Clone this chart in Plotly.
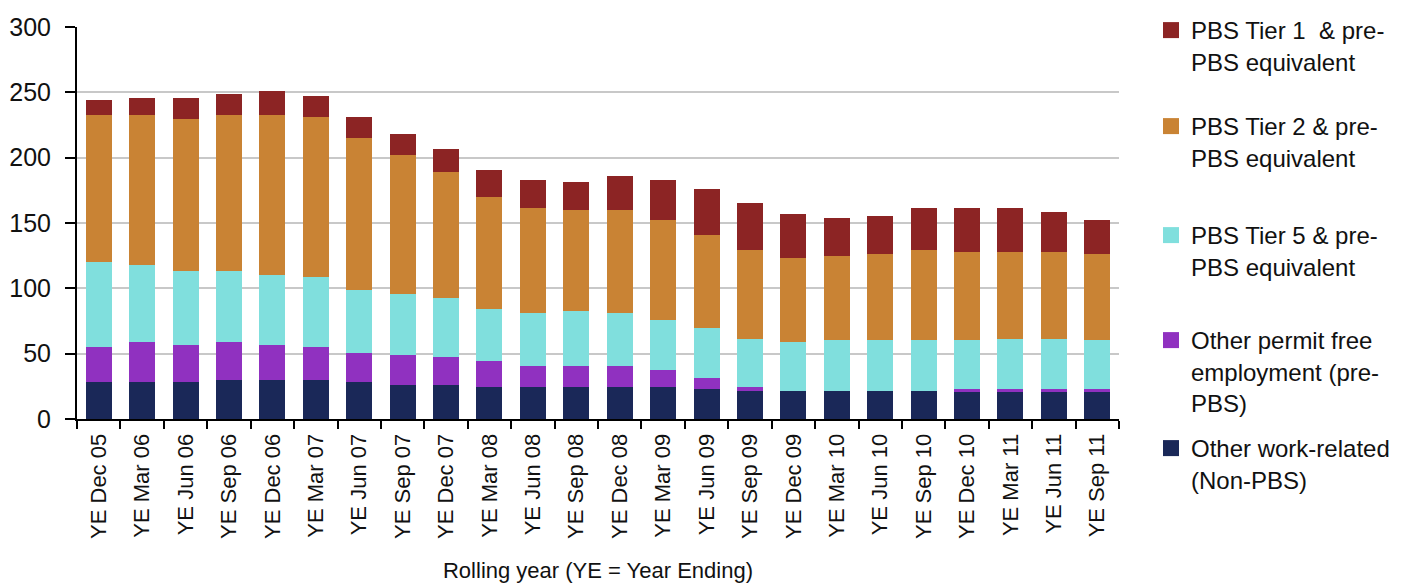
import plotly.graph_objects as go

categories = ["YE Dec 05", "YE Mar 06", "YE Jun 06", "YE Sep 06", "YE Dec 06", "YE Mar 07",
              "YE Jun 07", "YE Sep 07", "YE Dec 07", "YE Mar 08", "YE Jun 08", "YE Sep 08",
              "YE Dec 08", "YE Mar 09", "YE Jun 09", "YE Sep 09", "YE Dec 09", "YE Mar 10",
              "YE Jun 10", "YE Sep 10", "YE Dec 10", "YE Mar 11", "YE Jun 11", "YE Sep 11"]

other_work_related = [28, 28, 28, 29.6, 29.6, 29.6, 28, 26.3, 26.3, 24.5, 24.5, 24.5,
                      24.5, 24.5, 23, 21.4, 21.4, 21.4, 21.4, 21.4, 21.4, 21.4, 21.4, 21.4]
other_permit_free = [27.4, 30.7, 29, 29.1, 27.4, 25.8, 22.5, 22.7, 20.9, 19.6, 16.3, 16.3,
                     16.3, 13.3, 8.1, 3.1, 0, 0, 0, 0, 1.2, 1.2, 1.2, 1.2]
tier5 = [64.6, 59.3, 56.5, 54.8, 53, 53.3, 48.5, 46.7, 45.4, 40.1, 40.2, 41.6,
         40.2, 38.2, 38.5, 37, 37.3, 38.8, 38.8, 38.8, 37.6, 38.9, 38.9, 37.6]
tier2 = [113, 115, 116.1, 119.5, 123, 122.7, 116, 106.6, 96.7, 85.8, 80.7, 77.8,
         79.2, 76, 71.2, 68.1, 64.5, 64.5, 66.1, 69.4, 67.6, 66.3, 66.3, 66.1]
tier1 = [11, 12.7, 16.1, 16, 17.8, 16, 16.4, 16.1, 17.7, 20.8, 21, 20.8,
         25.8, 30.7, 35.5, 35.4, 33.8, 28.9, 28.8, 32.1, 33.9, 33.9, 30.6, 25.7]

series = [
    ("Other work-related<br>(Non-PBS)", other_work_related, "#1A2858"),
    ("Other permit free<br>employment (pre-<br>PBS)", other_permit_free, "#9031C0"),
    ("PBS Tier 5 & pre-<br>PBS equivalent", tier5, "#80DFDD"),
    ("PBS Tier 2 & pre-<br>PBS equivalent", tier2, "#C98334"),
    ("PBS Tier 1  & pre-<br>PBS equivalent", tier1, "#8C2424"),
]

# first-line centre of each legend entry (page pixels from top)
legend_centres = [449, 341, 236, 127, 18]

W, H = 1409, 575  # page has an 8px body margin
L, R, T, B = 69, 298, 19, 164

fig = go.Figure()
for name, vals, col in series:
    fig.add_trace(go.Bar(x=categories, y=vals, name=name, marker=dict(color=col, line=dict(width=0)),
                         showlegend=False))

legend_names = ["legend5", "legend4", "legend3", "legend2", "legend"]
for (name, vals, col), lg in zip(series, legend_names):
    fig.add_trace(go.Scatter(x=[None], y=[None], mode="markers", name=name, legend=lg,
                             marker=dict(symbol="square", size=16, color=col)))

font_family = "Liberation Sans, Arial, sans-serif"
plot_h = H - T - B
layout_legends = {}
for lg, c in zip(legend_names, legend_centres):
    top_fig = c - 31  # legend box top in figure pixels
    layout_legends[lg] = dict(xref="container", yref="paper", x=1143 / W,
                              y=(H - B - top_fig) / plot_h, xanchor="left", yanchor="top",
                              valign="top", font=dict(size=24, color="#111", family=font_family),
                              bgcolor="rgba(0,0,0,0)", borderwidth=0)

fig.update_layout(
    barmode="stack",
    bargap=0.40,
    width=W, height=H,
    margin=dict(l=L, r=R, t=T, b=B),
    paper_bgcolor="white", plot_bgcolor="white",
    font=dict(family=font_family, color="#111"),
    **layout_legends,
)
fig.update_yaxes(range=[0, 300], dtick=50, showgrid=True, gridcolor="#C8C8C8", gridwidth=2,
                 showline=True, linecolor="black", linewidth=2, ticks="outside", ticklen=10,
                 tickwidth=2, tickcolor="black", tickfont=dict(size=25), zeroline=False,
                 ticklabelstandoff=9, automargin=False)
fig.update_xaxes(showline=True, linecolor="black", linewidth=2, ticks="outside", ticklen=8,
                 tickwidth=2, tickcolor="black", tickson="boundaries", tickangle=-90,
                 tickfont=dict(size=22), automargin=False, ticklabelstandoff=4,
                 title=dict(text="Rolling year (YE = Year Ending)", font=dict(size=22), standoff=26))

fig.write_html("out.html")
